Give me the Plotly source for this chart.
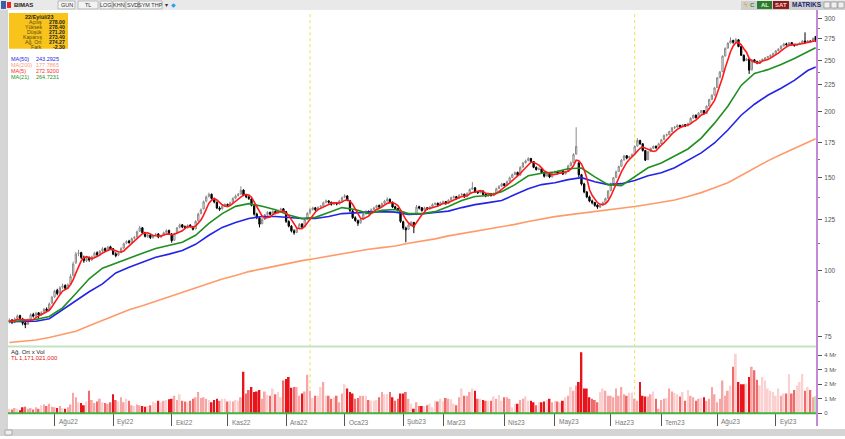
import math
import pandas as pd
import plotly.graph_objects as go

W, H = 845, 439

# ---------------- calendar (BIST trading days) ----------------
holidays = {"2022-07-11", "2022-07-12", "2022-07-15", "2022-08-30",
            "2023-02-08", "2023-02-09", "2023-02-10", "2023-02-13", "2023-02-14",
            "2023-04-21", "2023-05-01", "2023-05-19",
            "2023-06-28", "2023-06-29", "2023-06-30", "2023-08-30"}
dates = [d.strftime("%Y-%m-%d") for d in pd.bdate_range("2022-07-04", "2023-09-22")
         if d.strftime("%Y-%m-%d") not in holidays]

month_labels = ["Ağu22", "Eyl22", "Eki22", "Kas22", "Ara22", "Oca23", "Şub23",
                "Mar23", "Nis23", "May23", "Haz23", "Tem23", "Ağu23", "Eyl23"]

# ---------------- daily prices (TL) ----------------
opens = [
    80.0, 80.6, 79.8, 81.2, 82.2, 81.0, 79.6, 79.2, 81.0, 82.6, 82.0, 83.2, 82.4, 83.4, 84.6, 84.2, 86.8,
    89.2, 91.8, 90.6, 93.0, 93.8, 92.6, 94.2, 98.0, 103.5, 107.8, 108.2, 106.0, 104.4, 105.8, 104.8, 106.4, 108.2, 107.4, 109.0, 110.2, 109.4, 111.0,
    110.0, 107.6, 107.0, 108.2, 110.4, 112.8, 113.8, 113.2, 115.2, 115.8, 118.8, 120.6, 118.0, 116.0, 116.8, 115.6, 116.6, 117.4, 115.8, 116.6, 118.2, 119.2,
    117.4, 114.2, 117.8, 120.8, 122.2, 121.2, 120.6, 122.0, 121.2, 120.0, 124.4, 128.4, 131.0, 135.4, 138.4, 139.6, 137.0, 134.8, 131.4, 131.0, 132.6,
    133.6, 133.2, 134.8, 137.2, 138.8, 139.8, 142.2, 139.0, 138.0, 136.8, 132.8, 128.0, 125.8, 122.8, 125.2, 127.8, 129.0, 128.2, 129.6, 128.6, 130.2, 131.0,
    129.4, 124.0, 121.4, 119.0, 118.2, 120.2, 122.6, 121.2, 125.2, 128.8, 130.6, 131.6, 130.6, 132.0, 132.6, 134.8, 135.6, 134.8, 133.6, 134.4, 133.8, 135.6,
    137.8, 138.6, 135.8, 129.8, 126.0, 124.4, 123.2, 125.2, 128.2, 129.6, 129.0, 130.6, 131.6, 133.0, 132.2, 134.2, 135.6, 136.6, 134.8, 132.2, 131.2, 129.8,
    123.8, 120.4, 119.8, 122.2, 123.4, 128.0, 132.2, 131.6, 130.2, 131.6, 131.0, 132.2, 133.6, 134.2, 133.2,
    134.6, 135.2, 134.2, 136.2, 137.6, 138.2, 137.2, 139.2, 139.6, 138.2, 140.2, 142.8, 143.6, 141.2, 140.6, 141.6, 139.6, 138.6, 140.0, 138.8, 140.2, 143.2, 144.6,
    146.2, 145.2, 147.8, 150.2, 152.2, 153.6, 151.8, 157.2, 160.2, 161.8, 163.2, 161.0, 157.0, 155.6, 156.0, 153.6, 151.2, 152.6, 150.6,
    153.2, 154.2, 153.2, 154.6, 152.6, 154.2, 158.2, 160.2, 166.4, 160.0, 152.0, 146.0, 141.0, 138.0, 135.6, 134.6, 133.2, 132.0, 133.2, 134.6, 137.2,
    141.8, 146.2, 150.2, 154.2, 157.8, 162.2, 165.2, 163.6, 164.6, 166.4, 172.2, 176.6, 174.0, 169.0, 162.4, 168.2, 170.6, 172.2, 171.2,
    174.2, 177.2, 180.6, 181.2, 183.6, 186.6, 187.2, 188.6, 187.6, 189.2, 188.2, 190.2, 194.6, 197.2, 195.2, 199.2, 201.2, 198.6, 205.2, 211.2, 215.2,
    222.4, 232.2, 238.4, 255.2, 264.2, 270.2, 273.2, 271.2, 274.0, 266.0, 256.0, 250.2, 252.0, 240.2, 251.0, 249.0, 247.6, 250.2, 251.6, 253.2, 254.6, 256.2,
    258.2, 261.2, 263.2, 266.6, 269.2, 268.2, 270.6, 268.2, 267.2, 268.6, 270.2, 272.6, 271.2, 272.6, 272.2, 278.0,
]
highs = [
    81.2, 81.0, 81.5, 82.6, 82.5, 81.4, 80.2, 81.2, 83.0, 83.2, 83.6, 83.5, 83.8, 85.0, 85.2, 87.0, 89.6,
    92.0, 92.4, 93.4, 94.5, 94.2, 94.6, 98.5, 104.0, 108.5, 109.5, 108.6, 106.8, 106.2, 106.4, 106.8, 108.6, 108.8, 109.4, 110.8, 110.6, 111.4, 111.5,
    110.4, 108.4, 108.6, 110.8, 113.0, 114.2, 114.4, 115.6, 116.4, 119.2, 121.6, 121.0, 118.5, 117.6, 117.2, 117.0, 118.0, 117.8, 117.0, 118.6, 119.8, 119.6,
    117.8, 118.0, 121.0, 122.8, 122.6, 121.8, 122.4, 122.5, 121.6, 124.6, 128.8, 131.2, 135.8, 138.8, 140.6, 140.0, 137.6, 135.2, 132.4, 133.2, 134.2,
    134.0, 135.2, 137.8, 139.4, 140.4, 144.5, 142.6, 139.8, 138.6, 137.2, 133.4, 128.8, 126.4, 125.8, 128.2, 129.6, 129.4, 130.2, 130.0, 130.6, 131.6, 131.4,
    129.8, 124.6, 122.0, 119.8, 120.6, 123.0, 123.0, 125.6, 129.0, 131.2, 132.2, 132.0, 132.4, 133.2, 135.2, 136.4, 136.0, 135.2, 135.0, 134.8, 136.2, 138.2,
    139.6, 139.0, 136.2, 130.4, 126.8, 125.0, 125.6, 128.6, 130.2, 130.0, 131.2, 132.2, 133.4, 133.4, 134.6, 136.2, 137.8, 137.0, 135.2, 132.8, 131.6, 130.2,
    124.4, 121.2, 122.8, 124.2, 123.8, 133.2, 132.8, 132.0, 132.2, 132.0, 132.6, 134.2, 134.8, 134.6, 135.2,
    135.8, 135.6, 136.6, 138.2, 138.8, 138.6, 139.6, 140.4, 140.0, 140.8, 143.2, 147.2, 144.0, 141.6, 142.2, 142.0, 140.0, 140.4, 140.4, 140.6, 143.6, 145.2, 146.8,
    146.6, 148.2, 150.8, 152.8, 154.2, 154.0, 157.8, 160.8, 162.4, 164.2, 163.6, 161.4, 157.6, 157.0, 156.4, 154.0, 153.2, 153.0, 153.6,
    154.8, 154.6, 155.2, 155.0, 154.6, 158.8, 161.0, 167.0, 187.0, 161.0, 152.6, 146.8, 141.6, 138.8, 136.4, 135.0, 133.6, 133.8, 135.2, 137.6, 142.2,
    146.8, 150.6, 154.8, 158.2, 162.8, 165.8, 165.6, 165.2, 166.8, 172.8, 178.4, 177.0, 174.4, 169.4, 168.6, 171.2, 172.8, 172.6, 174.8,
    177.8, 181.2, 182.0, 184.2, 187.2, 188.0, 189.4, 189.0, 189.8, 189.6, 190.8, 195.2, 197.8, 197.6, 199.8, 201.8, 201.6, 205.8, 211.8, 216.0, 223.0,
    233.0, 239.0, 256.0, 265.0, 271.0, 277.0, 274.0, 276.0, 274.6, 266.6, 257.0, 253.2, 252.6, 251.8, 252.0, 250.0, 250.8, 252.4, 254.0, 255.4, 257.0, 259.0,
    262.0, 264.0, 267.4, 270.0, 270.4, 271.4, 271.2, 268.8, 269.4, 270.8, 273.4, 283.0, 273.4, 273.0, 276.4, 278.4,
]
lows = [
    79.4, 79.2, 79.5, 80.8, 80.8, 78.8, 77.8, 78.9, 80.6, 81.5, 81.8, 81.0, 82.0, 83.0, 83.5, 84.0, 86.5,
    88.8, 89.8, 90.2, 92.4, 92.0, 92.2, 94.0, 97.5, 103.0, 106.5, 105.2, 103.5, 103.8, 104.0, 104.5, 106.0, 106.6, 107.0, 108.5, 108.6, 109.0, 109.5,
    107.0, 106.0, 106.5, 108.0, 110.0, 112.2, 112.5, 113.0, 114.6, 115.5, 118.4, 117.5, 115.6, 115.4, 114.8, 115.0, 116.2, 115.2, 115.4, 116.4, 117.8, 117.0,
    113.0, 114.0, 117.4, 120.2, 120.4, 119.8, 120.2, 120.6, 119.2, 119.8, 124.0, 127.8, 130.6, 134.8, 137.6, 136.4, 134.2, 130.8, 129.8, 130.6, 132.0,
    132.2, 132.8, 134.4, 136.6, 138.2, 139.4, 138.4, 137.2, 136.2, 132.4, 127.2, 125.2, 120.8, 122.4, 124.8, 127.2, 127.2, 127.8, 128.0, 128.2, 129.8, 129.0,
    123.2, 120.8, 118.2, 117.0, 117.8, 119.8, 120.2, 121.0, 124.8, 128.2, 130.0, 129.8, 130.2, 131.4, 132.2, 134.2, 134.0, 132.8, 133.2, 133.0, 133.4, 135.2,
    137.2, 135.4, 129.2, 125.4, 123.8, 121.6, 122.8, 124.8, 127.8, 128.2, 128.6, 130.2, 131.2, 131.4, 131.8, 133.8, 135.2, 134.4, 131.4, 130.4, 129.4, 123.2,
    119.6, 113.2, 119.4, 121.6, 117.8, 127.4, 130.6, 129.4, 129.8, 130.2, 130.6, 131.8, 133.0, 132.4, 132.8,
    134.0, 133.4, 133.8, 135.8, 137.0, 136.4, 136.8, 138.8, 137.4, 137.8, 139.8, 142.4, 140.4, 139.8, 140.2, 139.0, 137.8, 138.2, 138.2, 138.4, 139.8, 142.8, 144.2,
    144.4, 144.8, 147.4, 149.8, 151.6, 151.0, 151.4, 156.8, 159.6, 161.2, 160.4, 156.4, 154.8, 155.0, 152.8, 150.2, 150.8, 149.8, 150.2,
    152.6, 152.2, 152.8, 151.8, 152.2, 153.8, 157.6, 159.8, 165.8, 150.4, 145.0, 140.2, 137.2, 134.8, 133.6, 132.2, 131.0, 131.4, 132.8, 134.2, 136.8,
    141.4, 145.8, 149.8, 153.8, 157.2, 161.6, 162.6, 163.0, 164.2, 166.0, 171.8, 173.2, 168.2, 161.4, 162.0, 167.8, 170.2, 170.2, 170.8,
    173.8, 176.8, 179.6, 180.8, 183.2, 185.6, 186.6, 186.6, 187.2, 187.2, 187.8, 189.8, 194.2, 194.2, 194.8, 198.6, 197.6, 198.2, 204.8, 210.6, 214.8,
    222.0, 231.6, 238.0, 254.6, 263.6, 269.6, 269.2, 270.6, 265.2, 255.2, 249.2, 249.6, 236.0, 239.6, 248.2, 246.2, 247.0, 249.6, 251.0, 252.6, 254.0, 255.6,
    257.6, 260.6, 262.6, 266.0, 267.4, 267.6, 267.2, 266.2, 266.6, 268.0, 269.6, 270.4, 270.6, 270.8, 271.8, 271.2,
]
closes = [
    80.5, 79.8, 81.0, 82.0, 81.2, 79.5, 79.0, 80.8, 82.5, 82.0, 83.0, 82.4, 83.2, 84.5, 84.0, 86.5, 89.0,
    91.5, 90.5, 92.8, 93.5, 92.6, 94.0, 97.5, 103.0, 107.5, 108.0, 106.0, 104.5, 105.5, 104.8, 106.2, 108.0, 107.2, 108.8, 110.0, 109.2, 110.8, 110.0,
    107.5, 106.8, 108.0, 110.2, 112.5, 113.5, 113.0, 115.0, 115.6, 118.5, 120.5, 118.0, 116.2, 116.8, 115.5, 116.5, 117.2, 115.8, 116.5, 118.0, 119.0, 117.5,
    114.0, 117.5, 120.5, 122.0, 121.0, 120.5, 121.8, 121.2, 119.8, 124.0, 128.0, 130.5, 135.0, 138.0, 139.5, 137.0, 135.0, 131.5, 130.8, 132.5, 133.5,
    133.0, 134.5, 137.0, 138.5, 139.5, 142.0, 139.0, 138.0, 137.0, 133.0, 128.0, 126.0, 122.5, 125.0, 127.5, 129.0, 128.0, 129.5, 128.5, 130.0, 130.8, 129.5,
    124.0, 121.5, 119.0, 118.0, 120.0, 122.5, 121.0, 125.0, 128.5, 130.5, 131.5, 130.5, 131.8, 132.5, 134.5, 135.5, 134.8, 133.5, 134.2, 133.8, 135.5, 137.5,
    138.5, 136.0, 130.0, 126.0, 124.5, 123.0, 125.0, 128.0, 129.5, 128.8, 130.5, 131.5, 132.8, 132.0, 134.0, 135.5, 136.5, 135.0, 132.0, 131.0, 130.0, 124.0,
    120.5, 119.5, 122.0, 123.5, 121.0, 132.0, 131.5, 130.0, 131.5, 130.8, 132.0, 133.5, 134.0, 133.0, 134.5,
    135.0, 134.0, 136.0, 137.5, 138.0, 137.0, 139.0, 139.5, 138.0, 140.0, 142.5, 143.5, 141.0, 140.5, 141.5, 139.5, 138.5, 139.8, 138.8, 140.0, 143.0, 144.5, 146.0,
    145.0, 147.5, 150.0, 152.0, 153.5, 151.5, 157.0, 160.0, 161.5, 163.0, 161.0, 157.0, 155.5, 156.0, 153.5, 151.0, 152.5, 150.5, 153.0,
    154.0, 153.0, 154.5, 152.5, 154.0, 158.0, 160.0, 166.0, 172.0, 152.0, 146.0, 141.0, 138.0, 135.5, 134.5, 133.0, 132.0, 133.0, 134.5, 137.0, 141.5,
    146.0, 150.0, 154.0, 157.5, 162.0, 165.0, 163.5, 164.5, 166.0, 172.0, 176.5, 174.0, 169.0, 162.0, 168.0, 170.5, 172.0, 171.0, 174.0,
    177.0, 180.5, 181.0, 183.5, 186.5, 187.0, 188.5, 187.5, 189.0, 188.0, 190.0, 194.5, 197.0, 195.0, 199.0, 201.0, 198.5, 205.0, 211.0, 215.0, 222.0,
    232.0, 238.0, 255.0, 264.0, 270.0, 273.0, 271.0, 274.0, 266.0, 256.0, 250.0, 252.0, 240.0, 251.0, 249.0, 247.5, 250.0, 251.5, 253.0, 254.5, 256.0, 258.0,
    261.0, 263.0, 266.5, 269.0, 268.0, 270.5, 268.0, 267.0, 268.5, 270.0, 272.5, 271.0, 272.5, 272.0, 275.7, 273.4,
]
# traded value (Ağ.Ort x Vol), billions of TL
volumes_bn = [
    0.3, 0.25, 0.35, 0.3, 0.2, 0.4, 0.45, 0.3, 0.35, 0.25, 0.4, 0.3, 0.55, 0.6, 0.5, 0.65, 0.45,
    0.4, 0.35, 0.5, 0.35, 0.3, 0.4, 0.6, 1.4, 1.1, 0.75, 0.7, 0.55, 0.8, 1.55, 0.9, 0.7, 0.8, 1.0, 0.75, 0.7, 0.65, 0.75,
    1.3, 0.9, 0.8, 1.1, 0.75, 1.0, 0.85, 0.55, 0.5, 0.6, 0.55, 0.5, 0.45, 0.5, 0.55, 0.8, 0.7, 0.85, 0.75, 0.85, 0.9, 0.95,
    1.0, 1.2, 0.9, 1.3, 0.85, 0.8, 0.75, 0.85, 1.0, 1.1, 1.45, 1.05, 1.1, 1.0, 0.9, 0.75, 0.9, 1.0, 0.85, 1.0, 1.0,
    0.8, 0.85, 0.8, 0.9, 0.85, 1.1, 2.85, 1.35, 1.6, 1.8, 1.45, 1.5, 1.6, 1.0, 1.5, 1.25, 1.2, 1.7, 1.3, 1.45, 1.1, 2.25,
    2.35, 2.5, 1.75, 1.8, 1.8, 1.2, 1.35, 1.5, 2.65, 1.55, 1.05, 1.2, 1.2, 1.8, 2.15, 1.2, 1.2, 1.0, 1.1, 1.2, 0.75, 1.35,
    2.0, 1.7, 1.45, 1.35, 1.0, 1.05, 1.2, 1.2, 1.2, 0.9, 0.85, 0.85, 0.9, 1.1, 1.45, 1.3, 1.3, 1.45, 1.1, 0.85, 1.0, 1.35,
    1.35, 1.45, 1.0, 0.65, 0.3, 0.75, 0.5, 0.5, 0.5, 0.55, 0.65, 0.4, 0.85, 0.8, 1.0,
    0.8, 1.05, 1.0, 0.95, 0.65, 0.55, 1.1, 1.7, 1.2, 1.2, 1.45, 1.7, 1.55, 1.0, 1.0, 0.9, 0.85, 0.85, 0.85, 1.15, 1.0, 1.25, 0.85,
    1.1, 1.1, 1.0, 0.4, 0.65, 0.65, 0.9, 1.0, 1.15, 0.85, 0.85, 0.75, 0.55, 0.75, 0.75, 0.8, 0.9, 1.0, 0.75,
    0.85, 0.8, 0.75, 0.85, 1.1, 1.2, 1.8, 1.55, 1.9, 2.15, 4.2, 1.7, 1.7, 1.1, 1.0, 0.9, 0.75, 1.45, 1.7, 1.55, 1.2,
    1.2, 1.1, 1.7, 1.2, 1.8, 1.3, 1.2, 1.4, 1.4, 1.0, 0.85, 2.15, 1.2, 1.15, 1.15, 1.3, 1.5, 1.0, 0.3,
    0.9, 1.0, 1.05, 1.7, 1.5, 1.4, 1.3, 1.15, 1.45, 0.85, 1.6, 1.2, 1.1, 0.85, 1.0, 1.05, 1.1, 0.85, 1.0, 1.8, 1.3,
    0.75, 1.0, 2.25, 1.2, 1.55, 1.9, 3.2, 4.1, 2.15, 2.0, 2.0, 2.05, 2.5, 3.2, 2.95, 2.3, 1.9, 2.5, 2.25, 1.7, 1.55, 1.45,
    1.2, 1.7, 1.2, 1.35, 1.35, 2.7, 1.35, 1.6, 1.9, 2.15, 2.7, 1.55, 1.8, 1.6, 1.1, 1.171021,
]
# moving averages read every 5th session (plus the last one)
ma21 = [80.0, 80.5, 80.8, 81.9, 85.0, 90.5, 96.5, 101.1, 103.4, 105.6, 107.9, 110.2, 111.7, 113.2,
        116.7, 122.9, 128.3, 132.4, 134.0, 132.5, 130.5, 127.5, 125.5, 126.2, 128.9, 131.7, 130.6,
        128.3, 130.1, 130.6, 128.3, 128.3, 129.4, 132.3, 135.8, 138.2, 138.8, 141.2, 145.6, 151.3,
        153.0, 153.8, 156.0, 156.5, 150.6, 145.6, 145.0, 150.6, 156.7, 160.0, 164.9, 170.1, 178.4,
        190.4, 205.0, 224.5, 236.5, 240.5, 246.0, 252.5, 260.1, 264.7]
ma50 = [80.0, 80.0, 80.2, 81.1, 84.3, 87.6, 91.2, 94.4, 99.0, 101.5, 103.8, 106.0, 107.5, 109.2,
        112.2, 116.7, 120.8, 123.4, 125.6, 126.7, 126.7, 126.2, 125.6, 125.6, 126.7, 128.3, 128.9,
        129.1, 129.4, 129.1, 127.8, 128.1, 128.9, 129.7, 131.7, 133.4, 134.6, 135.8, 139.4, 143.0,
        145.6, 146.8, 148.8, 150.1, 147.4, 145.6, 146.2, 148.2, 151.3, 153.3, 156.7, 161.7, 167.2,
        174.6, 184.8, 197.1, 206.8, 215.0, 221.7, 229.5, 239.6, 243.3]
ma200 = [73.1, 73.4, 73.9, 74.7, 75.7, 76.8, 78.6, 80.5, 82.4, 84.3, 85.8, 87.5, 89.2, 91.0,
         92.7, 94.4, 96.4, 97.9, 99.6, 100.8, 102.1, 103.4, 104.5, 105.5, 106.5, 107.6, 108.9,
         109.8, 110.6, 111.4, 112.7, 113.7, 114.9, 116.4, 117.5, 118.8, 119.9, 121.2, 122.4, 123.9,
         125.3, 126.6, 127.6, 128.5, 129.3, 130.1, 131.2, 132.3, 133.5, 134.6, 136.1, 138.2, 140.6,
         143.6, 146.8, 151.5, 156.5, 161.5, 166.0, 170.5, 175.5, 177.8]

n = len(dates)
assert all(len(a) == n for a in (opens, highs, lows, closes, volumes_bn)), \
    (n, len(opens), len(highs), len(lows), len(closes), len(volumes_bn))
ma_dates = dates[::5] + [dates[-1]]
ma5 = pd.Series(closes).rolling(5, min_periods=1).mean().tolist()

month_starts = []
seen = set()
for d in dates:
    if d[:7] not in seen:
        seen.add(d[:7])
        month_starts.append(d)
month_starts = month_starts[1:]

# ---------------- helpers ----------------
def X(px):
    return px / W

def Y(py):
    return 1 - py / H

FONT = "Liberation Sans, Arial, sans-serif"

vol_colors = []
for i in range(n):
    ch = (closes[i] - opens[i]) / opens[i]
    if i == n - 1:
        vol_colors.append("#b9e4b9")
    elif ch < -0.012:
        vol_colors.append("#e8141c")
    elif ch < 0:
        vol_colors.append("#f06a6a")
    elif ch > 0.012:
        vol_colors.append("#f7a6a6")
    else:
        vol_colors.append("#fbd0d0")

fig = go.Figure()

fig.add_trace(go.Candlestick(
    x=dates, open=opens, high=highs, low=lows, close=closes,
    increasing=dict(line=dict(color="#8a8a8a", width=1), fillcolor="#ffffff"),
    decreasing=dict(line=dict(color="#000000", width=1), fillcolor="#000000"),
    whiskerwidth=0, showlegend=False, hoverinfo="skip", xaxis="x", yaxis="y"))

fig.add_trace(go.Scatter(x=ma_dates, y=ma200, mode="lines", line=dict(color="#ff9a6a", width=1.6),
                         showlegend=False, hoverinfo="skip", yaxis="y"))
fig.add_trace(go.Scatter(x=ma_dates, y=ma50, mode="lines", line=dict(color="#2424e6", width=1.6),
                         showlegend=False, hoverinfo="skip", yaxis="y"))
fig.add_trace(go.Scatter(x=ma_dates, y=ma21, mode="lines", line=dict(color="#1f8f1f", width=1.6),
                         showlegend=False, hoverinfo="skip", yaxis="y"))
fig.add_trace(go.Scatter(x=dates, y=ma5, mode="lines", line=dict(color="#ff1a1a", width=1.6),
                         showlegend=False, hoverinfo="skip", yaxis="y"))

fig.add_trace(go.Bar(x=dates, y=volumes_bn, marker=dict(color=vol_colors, line=dict(width=0)),
                     showlegend=False, hoverinfo="skip", yaxis="y2"))

price_ticks = [75, 100, 125, 150, 175, 200, 225, 250, 275, 300]
minor_ticks = [87.5, 112.5, 137.5, 162.5, 187.5, 212.5, 237.5, 262.5, 287.5]

fig.update_layout(
    width=W, height=H, margin=dict(l=0, r=0, t=0, b=0),
    paper_bgcolor="white", plot_bgcolor="white",
    font=dict(family=FONT, size=7, color="#333"),
    bargap=0.35, showlegend=False, hovermode=False,
    xaxis=dict(type="category", domain=[X(8), X(817)], anchor="y2",
               range=[-0.5, n - 0.5], rangeslider=dict(visible=False),
               showgrid=False, zeroline=False, showline=False,
               tickmode="array", tickvals=month_starts, ticktext=[""] * len(month_starts),
               ticks="outside", ticklen=12, tickwidth=1, tickcolor="#555"),
    yaxis=dict(domain=[Y(348), Y(12)], type="log", side="right", anchor="x",
               range=[math.log10(72.1), math.log10(309.4)],
               tickmode="array", tickvals=price_ticks, ticktext=[str(v) for v in price_ticks],
               ticks="outside", ticklen=4, tickcolor="#555", tickfont=dict(size=6.5, color="#555"),
               ticklabelstandoff=1,
               minor=dict(tickmode="array", tickvals=minor_ticks, ticks="outside", ticklen=2, tickcolor="#777"),
               showgrid=False, zeroline=False, showline=False),
    yaxis2=dict(domain=[Y(416), Y(351)], side="right", anchor="x", range=[0, 4.45],
                tickmode="array", tickvals=[0, 1, 2, 3, 4], ticktext=["0", "1 Mr", "2 Mr", "3 Mr", "4 Mr"],
                ticks="outside", ticklen=4, tickcolor="#555", tickfont=dict(size=6, color="#555"),
                ticklabelstandoff=1,
                showgrid=False, zeroline=False, showline=False),
)

shapes = []
def rect(x0, y0, x1, y1, fill, line=None, lw=0):
    shapes.append(dict(type="rect", xref="paper", yref="paper", x0=X(x0), x1=X(x1), y0=Y(y1), y1=Y(y0),
                       fillcolor=fill, line=dict(color=line or fill, width=lw), layer="above"))
def hline(x0, x1, y, color, w=1, dash="solid"):
    shapes.append(dict(type="line", xref="paper", yref="paper", x0=X(x0), x1=X(x1), y0=Y(y), y1=Y(y),
                       line=dict(color=color, width=w, dash=dash), layer="above"))
def vline(x, y0, y1, color, w=1, dash="solid"):
    shapes.append(dict(type="line", xref="paper", yref="paper", x0=X(x), x1=X(x), y0=Y(y0), y1=Y(y1),
                       line=dict(color=color, width=w, dash=dash), layer="above"))

# frame
rect(0, 0, 845, 10, "#e9e9e9")
rect(0, 10, 6, 439, "#d6d6d6")
vline(7, 10, 432, "#a9a9a9", 1)
rect(0, 432, 845, 439, "#d4d4d4")
rect(5, 433, 12, 438, "#eeeeee", "#888", 0.6)
hline(8, 817, 349, "#c6e2c6", 2)
hline(8, 817, 416, "#3fb53f", 2)
vline(817, 10, 429, "#c58ad6", 2)
for idx in (113, 235):
    shapes.append(dict(type="line", xref="x", yref="paper", x0=dates[idx], x1=dates[idx],
                       y0=Y(416), y1=Y(12), line=dict(color="#f0e040", width=1, dash="dot"), layer="below"))

# toolbar boxes
rect(1, 1, 6, 9, "#3a5fa8")
rect(7, 2, 11, 8, "#e22")
for x0, x1 in ((58, 75), (78, 98), (100, 112), (113, 125), (126, 138), (139, 162)):
    rect(x0, 1, x1, 9, "#f3f3f3", "#9a9a9a", 0.6)
rect(741, 1, 845, 10, "#cfcfcf")
rect(757, 1, 772, 9, "#2d7a2d")
rect(773, 1, 789, 9, "#8a1c1c")
for x0 in (824, 831, 838):
    rect(x0, 2, x0 + 6, 8, "#efefef", "#888", 0.6)

rect(9, 13, 68, 49, "#f8c41c")
fig.update_layout(shapes=shapes)

ann = []
def text(x, y, s, color="#333", size=6, anchor="left", bold=False):
    ann.append(dict(x=X(x), y=Y(y), xref="paper", yref="paper", text=f"<b>{s}</b>" if bold else s,
                    showarrow=False, xanchor=anchor, yanchor="middle",
                    font=dict(family=FONT, size=size, color=color)))

text(12, 5, "BIMAS", "#222", 6, bold=True)
for x, s in ((66.5, "GUN"), (88, "TL"), (106, "LOG"), (119, "KHN"), (132, "SVD"), (150.5, "SYM THP")):
    text(x, 5, s, "#333", 5.5, "center")
text(166, 5, "▾", "#333", 6, "center")
text(173, 5, "◆", "#1da1f2", 6, "center")
text(746, 5, "ϟ", "#f0a020", 7, "center")
text(752, 5, "C", "#2a9a2a", 6, "center", bold=True)
text(764.5, 5, "AL", "#d8ffd8", 6, "center", bold=True)
text(781, 5, "SAT", "#ffd0d0", 6, "center", bold=True)
text(807, 5, "MATRIKS", "#1c2a6e", 6.5, "center", bold=True)

text(39, 17, "22/Eylül/23", "#222", 5.5, "center", bold=True)
info = [("Açılış", f"{opens[-1]:.2f}"), ("Yüksek", f"{highs[-1]:.2f}"), ("Düşük", f"{lows[-1]:.2f}"),
        ("Kapanış", f"{closes[-1]:.2f}"), ("Ağ. Ort", "274.27"), ("Fark", f"{closes[-1] - closes[-2]:.2f}")]
for k, (lab, val) in enumerate(info):
    yy = 22.5 + k * 4.9
    text(44, yy, lab, "#5a4a10", 5.2, "right")
    text(67, yy, val, "#222", 5.2, "right", bold=True)

legend = [("MA(50)", "243.2925", "#2424e6"), ("MA(200)", "177.7865", "#f7a07a"),
          ("MA(5)", f"{ma5[-1]:.4f}", "#ff2a2a"), ("MA(21)", "264.7231", "#1f8f1f")]
for k, (lab, val, col) in enumerate(legend):
    yy = 59 + k * 6.1
    text(9, yy, lab, col, 5.5)
    text(61, yy, val, col, 5.5, "right")

text(9, 354, "Ağ. Ort x Vol", "#222", 6)
text(9, 360, "TL", "#e02020", 6)
text(60, 360, f"{volumes_bn[-1] * 1e9:,.0f}", "#e02020", 6, "right")

for d, lab in zip(month_starts, month_labels):
    ann.append(dict(x=d, y=Y(425), xref="x", yref="paper", text=lab, showarrow=False,
                    xanchor="left", yanchor="middle", xshift=2,
                    font=dict(family=FONT, size=6.5, color="#777")))

fig.update_layout(annotations=ann)
fig.write_html("out.html", config={"displayModeBar": False},
               post_script="document.body.style.margin='0';document.body.style.overflow='hidden';")
